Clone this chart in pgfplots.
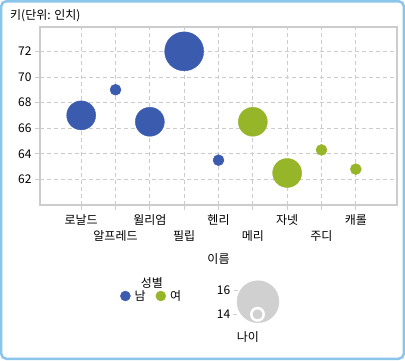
\documentclass[border=0pt]{standalone}
\usepackage{fontspec}
\setmainfont{Noto Sans CJK KR}
\usepackage{pgfplots}
\pgfplotsset{compat=1.18}
\definecolor{blueC}{RGB}{58,91,174}
\definecolor{greenC}{RGB}{151,181,41}
\definecolor{gridC}{RGB}{204,204,204}
\definecolor{frameC}{RGB}{138,198,234}
\definecolor{bubC}{RGB}{208,208,208}
\pgfplotstableread{
x y age r
0 67   15 14.5
1 69   14 5.5
2 66.5 15 14.5
3 72   16 19.5
4 63.5 14 5.5
}\male
\pgfplotstableread{
x y age r
5 66.5 15 14.5
6 62.5 15 14.5
7 64.3 14 5.5
8 62.8 14 5.5
}\female
\begin{document}
\begin{tikzpicture}[x=1pt,y=1pt,font=\fontsize{12}{14}\selectfont]
\path[use as bounding box] (-40,205) rectangle (365,-155);
\fill[white] (-40,205) rectangle (365,-155);
\draw[frameC, line width=2.5pt, rounded corners=5pt] (-38.75,203.75) rectangle (363.75,-153.75);
\node[anchor=west, inner sep=0pt] at (-30,189) {키(단위: 인치)};
\begin{axis}[scale only axis,
  width=357pt, height=178pt,
  xmin=-1.2, xmax=9.2, ymin=60, ymax=73.9,
  axis line style={gridC, line width=1.2pt},
  xtick={0,2,4,6,8}, xticklabels={로날드,윌리엄,헨리,자넷,캐롤},
  extra x ticks={1,3,5,7}, extra x tick labels={알프레드,필립,메리,주디},
  extra x tick style={xticklabel style={yshift=-16pt}, grid=major},
  ytick={62,64,...,72},
  grid=major, grid style={gridC, dash pattern=on 4pt off 3pt, line width=0.8pt},
  tick align=outside, major tick length=5pt, tick style={gridC, line width=0.8pt},
  xtick pos=bottom, ytick pos=left,
  xlabel={이름},
  /pgf/number format/assume math mode=true,
  tick label style={font=\fontsize{12}{14}\selectfont},
  xticklabel style={yshift=-1pt},
  label style={font=\fontsize{12}{14}\selectfont},
]
\addplot[forget plot, scatter, only marks, mark=*, scatter/use mapped color={draw=blueC,fill=blueC},
  visualization depends on={\thisrow{r} \as \rad},
  scatter/@pre marker code/.append style={/tikz/mark size=\rad pt}] table[x=x,y=y] {\male};
\addplot[forget plot, scatter, only marks, mark=*, scatter/use mapped color={draw=greenC,fill=greenC},
  visualization depends on={\thisrow{r} \as \rad},
  scatter/@pre marker code/.append style={/tikz/mark size=\rad pt}] table[x=x,y=y] {\female};
\end{axis}
\begin{axis}[at={(160,-155)}, anchor=south west, scale only axis,
  width=100pt, height=100pt, xmin=0, xmax=100, ymin=0, ymax=100,
  hide axis, clip=false,
  legend image code/.code={\fill[#1] (5pt,0pt) circle (5pt);},
  legend style={at={(-0.80,0.64)}, anchor=west, draw=none, fill=none, inner sep=0pt,
    legend columns=2, /tikz/every even column/.append style={column sep=6pt},
    nodes={inner xsep=4pt, inner ysep=2.5pt},
    font=\fontsize{12}{14}\selectfont},
]
\draw[bubC, line width=1pt] (axis cs:34,70) -- (axis cs:38,70);
\draw[bubC, line width=1pt] (axis cs:33,45.7) -- (axis cs:38,45.7);
\addplot[forget plot, only marks, mark=*, mark size=21pt, color=bubC] coordinates {(58,58.3)};
\draw[white, line width=1pt] (axis cs:37,45.7) -- (axis cs:52,45.7);
\addplot[forget plot, only marks, mark=*, mark size=6.2pt, draw=white, fill=bubC, line width=2.5pt] coordinates {(57.5,45.7)};
\node[anchor=east, inner sep=0pt] at (axis cs:30.5,70) {16};
\node[anchor=east, inner sep=0pt] at (axis cs:30.5,45.7) {14};
\node at (axis cs:48,23.3) {나이};
\node at (axis cs:-48,77) {성별};
\addlegendimage{blueC}\addlegendentry{남}
\addlegendimage{greenC}\addlegendentry{여}
\end{axis}
\end{tikzpicture}
\end{document}
